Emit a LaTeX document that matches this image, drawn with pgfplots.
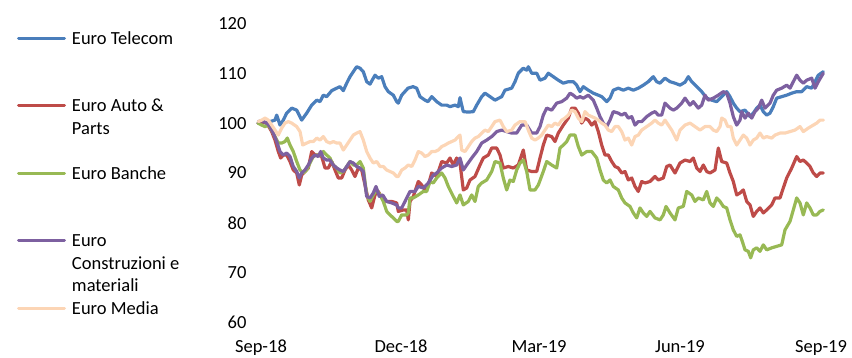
\documentclass[border=0pt]{standalone}
\usepackage{fontspec}
\setmainfont{Carlito}
\usepackage{pgfplots}
\pgfplotsset{compat=1.18}
\definecolor{cTel}{HTML}{4A7EBB}
\definecolor{cAuto}{HTML}{BE4B48}
\definecolor{cBan}{HTML}{98B954}
\definecolor{cCon}{HTML}{7D60A0}
\definecolor{cMed}{HTML}{FCD5B5}
\begin{document}
\begin{tikzpicture}
\useasboundingbox (0,0) rectangle (852bp,358bp);
\begin{axis}[
  at={(250bp,35.3bp)}, anchor=south west,
  scale only axis, width=585bp, height=299.4bp,
  xmin=250, xmax=835, ymin=60, ymax=120,
  axis line style={draw=none}, major tick length=0pt,
  xtick={261,401,539,680,821},
  xticklabels={Sep-18,Dec-18,Mar-19,Jun-19,Sep-19},
  ytick={60,70,...,120},
  /pgf/number format/assume math mode=true,
  tick label style={font=\fontsize{18.5bp}{22bp}\selectfont, text=black},
  xticklabel style={yshift=-14bp},
  legend cell align=left,
  legend image code/.code={\draw[#1] (0bp,0bp) -- (46bp,0bp);},
  legend style={at={(-0.39829,0.98747)}, anchor=north west, draw=none, fill=none,
    inner sep=0pt, outer sep=0pt, row sep=0pt, column sep=6bp,
    nodes={inner sep=0pt, outer sep=0pt, text height=17bp, text depth=5.5bp,
      font=\fontsize{18.5bp}{22.5bp}\selectfont}},
  every axis plot/.append style={line width=3.2bp, line join=round, line cap=round},
]
\addplot[forget plot, cTel] coordinates {(258,100)(262,100.2)(266,100)(270,100.3)(275,100.6)(276.7,101.6)(280,99.6)(283.3,100.6)(286.7,102)(291.7,103)(296.7,102.6)(301.7,100.6)(306.7,102)(311.7,103.6)(316.7,104.6)(320,104.3)(323.3,105.6)(326.7,105.3)(331.7,106.5)(336.7,107)(340,107.3)(343.3,106.5)(346.7,108)(350,109.3)(353.3,110.3)(356.7,111.3)(360,111)(363.3,110.3)(366.7,108.3)(370,107.8)(375,109.6)(378.3,109)(381.7,109.3)(385,107.3)(388.3,106.3)(393.3,105.6)(396.7,104.3)(398.3,104)(401.7,105.6)(408,107)(413,107.3)(416.7,107)(420,105.3)(425,104.6)(428,104.3)(431.7,105.3)(436.7,104.3)(441.7,103.6)(446.7,103.6)(450,103.3)(455,103.6)(458.3,103.3)(460,105.1)(461.7,103.6)(463.3,102.3)(468.3,102.2)(473.3,102.3)(476.7,103.6)(481.7,105.3)(485,106)(490,105.3)(495,104.6)(501.7,105.3)(505,106.6)(511.7,107)(515,108.3)(518.3,110)(523.3,111)(526.7,110.6)(528.3,111.3)(531.7,110)(536.7,110)(540,108.6)(545,109)(548.3,110)(553.3,109.3)(558.3,108.6)(563.3,108)(568.3,108.3)(573.3,108.3)(576.7,107.6)(580,106.3)(583.3,107.3)(588.3,106.6)(593.3,106)(598.3,105.6)(601.7,105.3)(606.7,104.3)(610,105)(613.3,106.6)(618.3,107)(623.3,106.6)(628.3,107)(633.3,106.6)(638.3,107)(643.3,107.6)(648.3,108.3)(653.3,109.3)(656.7,108.3)(660,108)(665,109)(670,108.3)(675,108)(680,107.6)(685,108.2)(688.3,109.3)(691.7,108.3)(696.7,107.3)(701.7,106.3)(706.7,105)(711.7,104.6)(716.7,104.3)(721.7,105.3)(726.7,106.3)(730,105.3)(733.3,104)(736.7,103)(740,102.3)(745,102.6)(750,101.3)(753.3,102)(756.7,103)(760,103.6)(763.3,102.3)(766.7,101.6)(770,102)(773.3,103.3)(776.7,105)(781.7,105.3)(786.7,105.6)(791.7,106)(796.7,106.3)(801.7,106.3)(806.7,107.3)(811.7,107)(815,108.3)(818.3,109.6)(823.3,110.3)};
\addplot[forget plot, cAuto] coordinates {(258,100)(262,100.3)(266.7,100)(271.7,98.3)(275,96.6)(278.3,94.3)(280.7,93)(283.3,93.6)(286.7,93.6)(290,92.3)(293.3,90.6)(296.7,90)(299.3,87.6)(301.7,89.6)(305,90.3)(308.3,91)(311.7,94.3)(315,93.6)(318.3,93.6)(321.7,93.3)(325,91)(328.3,91)(331.7,92.3)(335,90.6)(338.3,89)(341.7,89)(345,90.6)(348.3,91.6)(351.7,90.6)(355,89.3)(358.3,91)(361.7,90.6)(365,87.6)(368.3,84.6)(371.7,83)(375,85.6)(378.3,86.3)(381.7,85)(386.7,84.3)(391.7,84.3)(396.7,84)(398.3,82.3)(403.3,82.6)(406.7,82.6)(408.3,80.6)(410,84.3)(413.3,85.3)(418.3,88.3)(421.7,87.6)(425,86.6)(428.3,87.6)(431.7,90)(436.7,89.3)(441.7,92.3)(446.7,92)(450,93)(453.3,91.6)(456.7,93)(460,92)(463.3,86.6)(466.7,87)(470,88.6)(475,89.3)(480,91.6)(483.3,93)(488.3,93.6)(491.7,95)(496.7,95)(500,93.6)(503.3,91)(508.3,91.3)(513.3,91)(518.3,91.6)(523.3,94.6)(526.7,90.6)(531.7,90.3)(536.7,90.3)(540,93)(543.3,95.6)(546.7,97.6)(551.7,97.3)(555,96.3)(558.3,98)(563.3,99.6)(568.3,101)(571.7,103)(575,103)(578.3,102)(581.7,100)(585,101)(588.3,100.6)(591.7,99.6)(595,100.3)(598.3,98.3)(601.7,95.6)(605,93.6)(608.3,93.6)(611.7,92.3)(615,91.3)(618.3,91)(621.7,90)(625,90.3)(628.3,88.6)(631.7,89)(635,87.3)(638.3,86.3)(641.7,88.3)(645,88)(650,88.3)(655,89.3)(658.3,88.6)(663.3,89)(666.7,91.3)(670,91.6)(675,90)(680,92)(685,92.6)(690,92.3)(693.3,93)(696.7,91)(700,90.3)(703.3,91.6)(706.7,90.3)(710,90)(715,90.6)(718.3,95)(721.7,92.3)(726.7,92)(730,90)(733.3,88.3)(736.7,85.6)(740,86)(743.3,86.6)(746.7,84.3)(750,83.6)(753.3,81.3)(756.7,82.3)(760,83)(763.3,82)(766.7,82.6)(771.7,83.6)(775,85)(780,85)(783.3,87)(786.7,89)(791.7,91)(796.7,93.3)(800,92.3)(803.3,92.6)(806.7,92)(810,91.3)(813.3,90)(816.7,89.3)(820,90)(823.3,90)};
\addplot[forget plot, cBan] coordinates {(258,100)(261.7,99.6)(265,99.3)(268.3,99.6)(271.7,98.6)(275,97.3)(278.3,96)(281.7,96)(285,96.3)(287.3,97)(290,95.6)(293.3,94.3)(296.7,92.3)(300,90.6)(303.3,90)(306.7,90.6)(310,92)(313.3,93.3)(316.7,93.6)(320,93.6)(323.3,94.3)(326.7,93.6)(330,93)(333.3,91.6)(336.7,91)(340,90)(343.3,90.3)(346.7,91.3)(350,92.3)(353.3,91.6)(356.7,91.6)(360,92.3)(363.3,91)(366.7,85.6)(370,84.3)(373.3,85.6)(376.7,86.6)(380,85.6)(383.3,84.3)(386.7,82.3)(390,81.6)(393.3,81)(396.7,80.3)(398.3,80.3)(401.7,81.6)(406.7,81.6)(408.3,82)(410,85)(413.3,85)(418.3,85.6)(423.3,86.3)(426.7,86.3)(430,88.3)(433.3,88)(436.7,89)(441.7,90)(445,89)(448.3,87.3)(453.3,85.3)(456.7,84)(460,85.6)(463.3,83.6)(468.3,84.3)(471.7,85.6)(475,84.3)(478.3,87.3)(481.7,88)(486.7,88.6)(491.7,90.3)(495,92.3)(500,92)(503.3,89)(506.7,86.6)(510,88.6)(513.3,88.3)(516.7,90.6)(520,92)(523.3,92.6)(526.7,90.3)(530,86.6)(535,86.6)(538.3,87.6)(540,88.5)(543.3,90.3)(546.7,92.3)(551.7,91.6)(556.7,91)(560,95)(563.3,95.6)(566.7,96.3)(570,97.6)(575,97.6)(578.3,95.3)(581.7,93.6)(586.7,94.3)(591.7,94.3)(596.7,93)(600,90.6)(603.3,88.6)(606.7,88)(610,88.6)(613.3,87.3)(618.3,86.6)(621.7,85)(625,84)(630,83.3)(633.3,82)(636.7,81)(640,83)(643.3,82)(646.7,81.3)(650,82.3)(655,81)(660,80.6)(663.3,81.6)(666,83.3)(670,82)(675,80.6)(678.3,83)(683.3,83.3)(686.7,86.3)(691.7,85.6)(695,84.3)(698.3,85)(703.3,84.6)(706.7,86.3)(710,84)(713.3,83.3)(716.7,85)(720,84.3)(723.3,83.3)(726.7,83)(730,80.6)(733.3,78.6)(736.7,77.3)(740,77.6)(742.3,76.3)(745,74.6)(748.3,74.3)(750.7,73)(753.3,74.6)(756.7,75)(760,74.3)(763.3,75.6)(766.7,74.6)(771.7,75)(776.7,75.3)(781.7,75.6)(785,78.6)(790,80.3)(793.3,82.6)(796.7,85)(800,84)(803.3,81.6)(806.7,84)(810,83)(813.3,81.6)(816.7,81.6)(820,82.3)(823.3,82.6)};
\addplot[forget plot, cCon] coordinates {(258.3,100.3)(262,100.5)(266.7,100)(270,99.3)(273.3,98)(276.7,96.3)(280,94.3)(283.3,93.6)(286.7,94)(290,93.3)(293.3,91.3)(296.7,90.3)(299.3,89)(301.7,90)(305,90.6)(308.3,91.6)(311.7,93)(315,93.6)(318.3,93.3)(320.7,94.3)(323.3,93)(326.7,92.6)(330,92.6)(333.3,91.6)(336.7,91)(340,90.6)(343.3,90.3)(346.7,91.3)(350,92.3)(353.3,92)(356.7,91.3)(360,91)(363.3,90.3)(366.7,85.3)(370,85)(373.3,86)(376,87.3)(379.3,85.3)(382.7,85.6)(386.7,84.3)(391.7,84)(396.7,83.6)(398.3,83)(401.7,83)(405,84.3)(406.7,85)(410,86.3)(415,86.3)(418.3,87.3)(423.3,87)(428.3,88)(433.3,89.6)(436.7,90)(441.7,91)(446.7,91.6)(451.7,91.3)(456.7,91.6)(460,93)(463.3,90.6)(466.7,91.6)(471.7,93)(476.7,94.3)(481.7,96)(486.7,96.6)(491.7,97.3)(496.7,98.3)(501.7,98.6)(506.7,98.3)(511.7,98)(516.7,98)(521.7,99.6)(526.7,99.6)(531.7,98)(536.7,98)(540,99.3)(543.3,101.6)(546.7,103)(551.7,102.6)(556.7,104)(561.7,104.3)(566.7,105)(570,106)(573.3,105.6)(576.7,105)(580,105.3)(583.3,105)(588.3,105.6)(593.3,104.6)(596.7,103)(600,101.3)(603.3,100)(606.7,99.3)(610,100.6)(613.3,102.3)(618.3,102)(621.7,101.6)(625,102)(628.3,101)(631.7,101.3)(635,99.6)(638.3,100.3)(641.7,100.3)(646.7,101.3)(651.7,102)(655,102.3)(658.3,101.6)(661.7,101.6)(665,104)(670,103)(673.3,102.6)(676.7,103)(681.7,104)(685,105)(690,103.6)(693.3,104.3)(698.3,103)(701.7,103.6)(705,105.6)(708.3,104.6)(713.3,105)(718.3,105.6)(723.3,106.3)(726.7,106)(730,104)(733.3,101.3)(736.7,99.6)(740,100.6)(741.7,102.3)(745,101)(748.3,102)(751.7,101)(755,102.3)(758.3,103)(761.7,104.6)(765,103)(770,104)(773.3,105.6)(776.7,106.6)(781.7,107)(786.7,107.6)(790,107)(793.3,108.3)(796.7,109.6)(800,108.6)(803.3,108)(806.7,108.6)(811.7,109)(815,107)(818.3,108.3)(823.3,110)};
\addplot[forget plot, cMed] coordinates {(258.3,100.3)(261.7,100.6)(265,101)(268.3,100.6)(271.7,99.6)(275,98.6)(278.3,97.6)(281.7,99)(285,100)(288.3,100.3)(291.7,100)(296.7,99.3)(300,98.3)(302.7,95.6)(306.7,96)(310,96.3)(313.3,96.3)(316.7,97)(320,96.6)(323.3,97.3)(326.7,96.3)(330,96)(333.3,96.3)(336.7,96)(340,96)(343.3,94.6)(346.7,95.6)(350,96.6)(353.3,97.6)(356.7,98)(360,98.3)(363.3,96.6)(366.7,94.3)(370,93)(373.3,92)(376.7,92.3)(380,91.3)(383.3,91.3)(386.7,90.6)(390,90.3)(393.3,90)(396.7,89.3)(398.3,89.3)(401.7,90.6)(405,91)(408.3,91.6)(411.7,91.3)(415,92.6)(418.3,94.3)(421.7,94)(425,93.3)(428.3,93.6)(431.7,94.3)(435,94.3)(438.3,94.6)(441.7,95.3)(445,95.6)(448.3,96)(451.7,96.3)(455,96.6)(458.3,97.3)(460,97.6)(461.7,94.6)(465,94.3)(468.3,95.3)(471.7,96.3)(475,97)(478.3,97.3)(481.7,98)(485,98.6)(488.3,98.3)(491.7,99.3)(495,100.3)(500,100.6)(503.3,99.3)(506.7,98.3)(511.7,98.6)(515,99.6)(520,100.3)(525,100.3)(528.3,98.6)(531.7,97)(535,96.6)(538.3,97)(541.7,97.6)(545,98.6)(548.3,99.6)(551.7,99.3)(555,100)(558.3,99.6)(561.7,100.6)(565,101)(568.3,101.6)(571.7,102.6)(575,102.3)(578.3,101)(581.7,100.3)(585,102.3)(588.3,101.6)(591.7,101.3)(595,101)(598.3,100.6)(601.7,100)(605,99.6)(608.3,98.6)(611.7,98.3)(615,99.3)(618.3,99.3)(621.7,98.3)(625,96.6)(628.3,97)(631.7,95.6)(635,97.3)(638.3,97.6)(641.7,98.6)(646.7,99.3)(651.7,100)(655,100.6)(658.3,100)(661.7,99.6)(665,100.6)(668.3,99.6)(671.7,98.6)(676.7,96.6)(680,98.6)(685,99.6)(690,100)(695,99.3)(700,98.6)(705,99.3)(710,99.3)(713.3,98.6)(716.7,98.3)(720,99.3)(721.7,101)(725,100.6)(727.7,99.3)(731,99.3)(733.3,97)(736.7,95.6)(740,96.6)(743.3,97.6)(746.7,97)(750,95.6)(753.3,96.6)(756.7,97)(760,98)(763.3,97)(766.7,97.3)(771.7,97)(775,97.6)(780,98)(785,98)(790,98.3)(795,98.6)(800,99.3)(803.3,98.3)(808.3,99)(813.3,99.6)(816.7,100)(820,100.6)(823.3,100.6)};
\addlegendimage{cTel, line width=3bp}\addlegendentry{Euro Telecom}
\addlegendimage{empty legend}\addlegendentry{\mbox{}}
\addlegendimage{empty legend}\addlegendentry{\mbox{}}
\addlegendimage{cAuto, line width=3bp}\addlegendentry{Euro Auto \&}
\addlegendimage{empty legend}\addlegendentry{Parts}
\addlegendimage{empty legend}\addlegendentry{\mbox{}}
\addlegendimage{cBan, line width=3bp}\addlegendentry{Euro Banche}
\addlegendimage{empty legend}\addlegendentry{\mbox{}}
\addlegendimage{empty legend}\addlegendentry{\mbox{}}
\addlegendimage{cCon, line width=3bp}\addlegendentry{Euro}
\addlegendimage{empty legend}\addlegendentry{Construzioni e}
\addlegendimage{empty legend}\addlegendentry{materiali}
\addlegendimage{cMed, line width=3bp}\addlegendentry{Euro Media}
\end{axis}
\end{tikzpicture}
\end{document}
